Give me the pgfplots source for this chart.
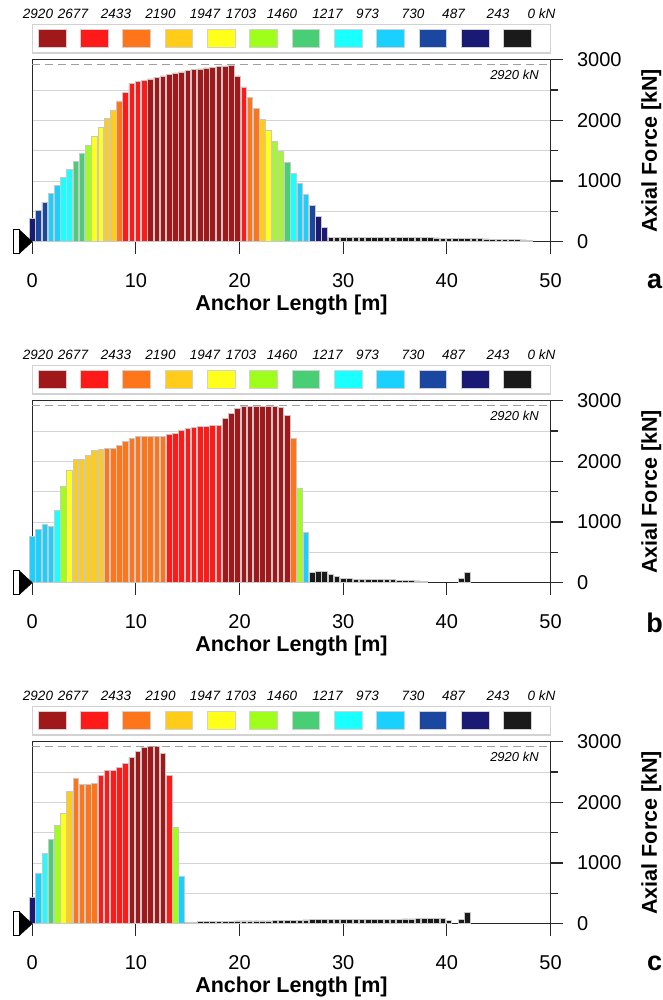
\documentclass[border=0pt]{standalone}
\usepackage{pgfplots}
\usepackage{pgfplotstable}
\pgfplotsset{compat=1.18}
\usepackage{fontspec}
\setmainfont{Liberation Sans}

\definecolor{c0}{RGB}{160,24,26}
\definecolor{c1}{RGB}{255,26,26}
\definecolor{c2}{RGB}{255,118,26}
\definecolor{c3}{RGB}{255,204,26}
\definecolor{c4}{RGB}{255,255,26}
\definecolor{c5}{RGB}{160,255,26}
\definecolor{c6}{RGB}{72,206,116}
\definecolor{c7}{RGB}{26,255,255}
\definecolor{c8}{RGB}{26,208,255}
\definecolor{c9}{RGB}{26,72,160}
\definecolor{c10}{RGB}{26,26,116}
\definecolor{c11}{RGB}{26,26,26}
\definecolor{barline}{RGB}{200,200,200}
\definecolor{gridc}{RGB}{212,212,212}
\definecolor{axc}{RGB}{40,40,40}

% x = anchor length [m], y = axial force [kN], c = colour class (0 = 2677-2920 ... 11 = 0-243)
\pgfplotstableread{
x y c
0.0 384 10
0.6 521 9
1.2 653 9
1.8 790 8
2.4 922 8
3.0 1053 7
3.6 1185 7
4.2 1317 6
4.8 1448 6
5.4 1596 5
6.0 1739 4
6.6 1882 4
7.2 2030 3
7.8 2172 3
8.4 2320 2
9.0 2463 1
9.6 2606 1
10.2 2639 1
10.8 2660 1
11.4 2682 0
12.0 2710 0
12.6 2732 0
13.2 2759 0
13.8 2781 0
14.4 2798 0
15.0 2820 0
15.6 2841 0
16.2 2847 0
16.8 2863 0
17.4 2869 0
18.0 2885 0
18.6 2896 0
19.2 2907 0
19.8 2732 0
20.4 2551 1
21.0 2375 2
21.6 2194 2
22.2 2013 3
22.8 1832 4
23.4 1657 5
24.0 1481 5
24.6 1306 6
25.2 1130 7
25.8 954 8
26.4 779 8
27.0 598 9
27.6 417 10
28.2 236 10
28.8 66 11
29.4 66 11
30.0 68 11
30.6 68 11
31.2 68 11
31.8 68 11
32.4 68 11
33.0 68 11
33.6 68 11
34.2 68 11
34.8 68 11
35.4 68 11
36.0 66 11
36.6 66 11
37.2 66 11
37.8 66 11
38.4 64 11
39.0 62 11
39.6 60 11
40.2 58 11
40.8 56 11
41.4 54 11
42.0 52 11
42.6 50 11
43.2 48 11
43.8 45 11
44.4 42 11
45.0 40 11
45.6 37 11
46.2 34 11
46.8 31 11
47.4 28 11
48.0 25 11
}\tabA

\pgfplotstableread{
x y c
0.0 760 8
0.6 880 8
1.2 958 8
1.8 925 8
2.4 1194 7
3.0 1590 5
3.6 1849 4
4.2 2025 3
4.8 2025 3
5.4 2097 3
6.0 2185 3
6.6 2190 3
7.2 2207 2
7.8 2218 2
8.4 2267 2
9.0 2333 2
9.6 2383 2
10.2 2410 2
10.8 2410 2
11.4 2416 2
12.0 2416 2
12.6 2416 2
13.2 2438 1
13.8 2465 1
14.4 2510 1
15.0 2548 1
15.6 2565 1
16.2 2570 1
16.8 2576 1
17.4 2587 1
18.0 2598 1
18.6 2702 0
19.2 2790 0
19.8 2878 0
20.4 2911 0
21.0 2911 0
21.6 2911 0
22.2 2911 0
22.8 2911 0
23.4 2900 0
24.0 2895 0
24.6 2757 0
25.2 2383 2
25.8 1547 5
26.4 831 8
27.0 165 11
27.6 182 11
28.2 182 11
28.8 143 11
29.4 105 11
30.0 77 11
30.6 66 11
31.2 60 11
31.8 58 11
32.4 56 11
33.0 54 11
33.6 52 11
34.2 50 11
34.8 47 11
35.4 44 11
36.0 40 11
36.6 35 11
37.2 28 11
37.8 20 11
41.4 70 11
42.0 170 11
}\tabB

\pgfplotstableread{
x y c
0.0 440 10
0.6 837 8
1.2 1167 7
1.8 1387 6
2.4 1613 5
3.0 1827 4
3.6 2174 3
4.2 2394 2
4.8 2300 2
5.4 2295 2
6.0 2317 2
6.6 2438 1
7.2 2520 1
7.8 2531 1
8.4 2570 1
9.0 2636 1
9.6 2746 0
10.2 2845 0
10.8 2906 0
11.4 2917 0
12.0 2917 0
12.6 2807 0
13.2 2444 1
13.8 1580 5
14.4 787 8
15.0 25 11
15.6 28 11
16.2 32 11
16.8 35 11
17.4 38 11
18.0 40 11
18.6 42 11
19.2 44 11
19.8 46 11
20.4 46 11
21.0 46 11
21.6 46 11
22.2 46 11
22.8 46 11
23.4 48 11
24.0 50 11
24.6 52 11
25.2 55 11
25.8 58 11
26.4 61 11
27.0 64 11
27.6 67 11
28.2 70 11
28.8 72 11
29.4 72 11
30.0 72 11
30.6 74 11
31.2 74 11
31.8 74 11
32.4 74 11
33.0 74 11
33.6 76 11
34.2 76 11
34.8 76 11
35.4 76 11
36.0 78 11
36.6 78 11
37.2 80 11
37.8 86 11
38.4 90 11
39.0 92 11
39.6 90 11
40.2 55 11
41.4 70 11
42.0 190 11
}\tabC

\newcommand{\classbars}[2]{%
  \addplot[ybar, bar width=0.54, bar shift=0pt, fill=c#2, draw=barline, line width=0.7pt,
    restrict y to domain=0:5000, forget plot]
    table[x=x, y expr={\thisrow{c}==#2 ? \thisrow{y} : -100}] {#1};
}
\newcommand{\allbars}[1]{%
  \classbars{#1}{0}\classbars{#1}{1}\classbars{#1}{2}\classbars{#1}{3}%
  \classbars{#1}{4}\classbars{#1}{5}\classbars{#1}{6}\classbars{#1}{7}%
  \classbars{#1}{8}\classbars{#1}{9}\classbars{#1}{10}\classbars{#1}{11}%
}

\pgfplotsset{
  panelstyle/.style={
    scale only axis, width=518.2pt, height=182pt,
    xmin=0, xmax=50, ymin=0, ymax=3000,
    clip=false,
    axis line style={line width=1.1pt, axc},
    xtick={0,10,20,30,40,50}, xticklabels={0,10,20,30,40,50},
    ytick={0,1000,2000,3000}, yticklabels={0,1000,2000,3000},
    minor ytick={500,1500,2500},
    xtick pos=bottom, ytick pos=right, yticklabel pos=right,
    tick align=outside,
    major tick length=12pt, minor tick length=7pt,
    every tick/.style={line width=1.1pt, axc},
    ymajorgrids, yminorgrids,
    major grid style={line width=1pt, gridc},
    minor grid style={line width=1pt, gridc},
    /pgf/number format/assume math mode=true,
    ticklabel style={font=\fontsize{20}{24}\selectfont},
    xticklabel style={yshift=-16pt},
    yticklabel style={anchor=west, xshift=11pt},
    xlabel={Anchor Length [m]},
    ylabel={Axial Force [kN]},
    every axis x label/.style={at={(axis description cs:0.5,0)}, anchor=center, yshift=-63pt,
      font=\bfseries\fontsize{21.5}{25}\selectfont},
    every axis y label/.style={at={(axis description cs:1.1945,0.5)}, anchor=center, rotate=90,
      font=\bfseries\fontsize{21.5}{25}\selectfont},
  }
}

\newcommand{\panel}[3]{%
\begin{axis}[panelstyle, at={(32.3pt,#2pt)}, anchor=south west]
  \allbars{#1}
  \addplot[gray!75, line width=1.2pt, dash pattern=on 8pt off 5pt] coordinates {(0,2920) (50,2920)};
  \node[anchor=east, font=\itshape\fontsize{13}{15}\selectfont] at (axis cs:49.2,2745) {2920 kN};
  \draw[fill=black] (axis cs:0,0) -- ++(-12.5pt,11.5pt) -- ++(0,-23pt) -- cycle;
  \draw[fill=white, line width=1pt] ([xshift=-18.5pt,yshift=-12pt]axis cs:0,0) rectangle ([xshift=-12.5pt,yshift=12pt]axis cs:0,0);
\end{axis}
\draw[gray!35, line width=1.5pt, fill=white] (32.3pt,#2pt+188.7pt) rectangle (550.5pt,#2pt+217pt);
\foreach \k in {0,...,11} {
  \draw[fill=c\k, draw=gray!35, line width=1pt] (38.3pt+42.3pt*\k,#2pt+194pt) rectangle ++(27.7pt,18pt);
}
\foreach \lab/\xx in {2920/38,2677/73,2433/116,2190/160.5,1947/205,1703/241,1460/282,1217/327.5,973/367.5,730/413,487/453.5,243/498,0 kN/541.5} {
  \node[font=\itshape\fontsize{13.5}{16}\selectfont] at (\xx pt,#2pt+228pt) {\lab};
}
\node[font=\bfseries\fontsize{27}{30}\selectfont] at (654.5pt,#2pt-40pt) {#3};
}

\begin{document}
\begin{tikzpicture}
\useasboundingbox (0pt,0pt) rectangle (662pt,1000pt);
\panel{\tabA}{758.3}{a}
\panel{\tabB}{417.3}{b}
\panel{\tabC}{76.3}{c}
\end{tikzpicture}
\end{document}
